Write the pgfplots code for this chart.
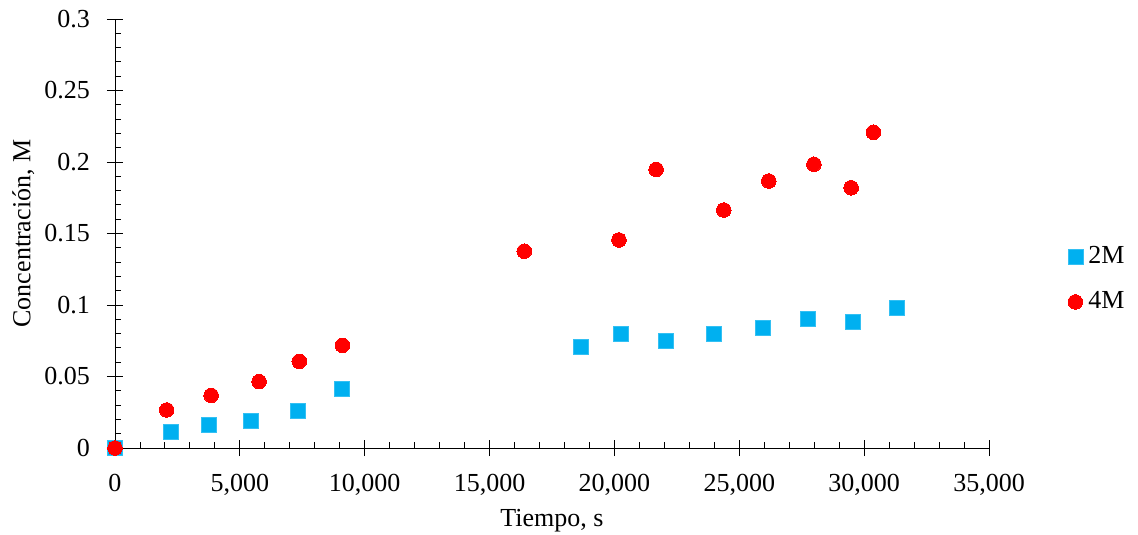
\documentclass[border=0pt]{standalone}
\usepackage{fontspec}
\setmainfont{Liberation Serif}
\usepackage{pgfplots}
\pgfplotsset{compat=1.18}
\definecolor{sqblue}{HTML}{00B0F0}
\definecolor{cired}{HTML}{FF0000}
\begin{document}
\fontsize{26}{30}\selectfont
\begin{tikzpicture}[x=1pt,y=1pt]
\useasboundingbox (-115,-87) rectangle (1023,448);
\begin{axis}[
  at={(0pt,0pt)}, anchor=south west,
  scale only axis, width=874pt, height=429pt,
  xmin=0, xmax=35000, ymin=0, ymax=0.3,
  axis x line*=bottom, axis y line*=left,
  clip=false,
  axis line style={black, line width=0.9pt},
  xtick={0,5000,10000,15000,20000,25000,30000,35000},
  ytick={0,0.05,0.1,0.15,0.2,0.25,0.3},
  minor x tick num=4, minor y tick num=4,
  tick align=inside,
  major tick length=8pt, minor tick length=6pt,
  tick style={black, line width=0.9pt},
  extra x ticks={0,5000,10000,15000,20000,25000,30000,35000},
  extra y ticks={0,0.05,0.1,0.15,0.2,0.25,0.3},
  extra x tick labels={}, extra y tick labels={},
  extra tick style={tick align=outside, major tick length=8pt},
  scaled x ticks=false, scaled y ticks=false,
  /pgf/number format/assume math mode=true,
  xticklabel style={/pgf/number format/.cd, 1000 sep={,}, /tikz/.cd, inner sep=0pt, anchor=north, yshift=-26pt},
  yticklabel style={/pgf/number format/.cd, fixed, precision=2, /tikz/.cd, inner sep=0pt, anchor=east, xshift=-25pt},
  xlabel={Tiempo, s},
  ylabel={Concentración, M},
  xlabel style={at={(axis description cs:0.5,-0.17)}, anchor=center},
  ylabel style={at={(axis description cs:-0.105,0.5)}, anchor=center},
  legend style={draw=none, fill=none, at={(axis description cs:1.09,0.393)}, anchor=west, row sep=19pt, column sep=3pt, inner sep=0pt, nodes={inner sep=2.5pt}},
  legend cell align=left,
  legend image code/.code={\draw[only marks] plot coordinates {(0pt,0pt)};},
]
\addplot[only marks, mark=square*, mark size=7.5pt, mark options={fill=sqblue, draw=sqblue!80!white, line width=0.6pt}] coordinates {
(0,0) (2230,0.0114) (3740,0.0163) (5450,0.0189) (7340,0.0263) (9080,0.0413)
(18660,0.0706) (20250,0.0797) (22040,0.0752) (23960,0.0802) (25930,0.0844)
(27730,0.0905) (29540,0.0884) (31300,0.0982)
};
\addlegendentry{2M}
\addplot[only marks, mark=*, mark size=7.3pt, mark options={fill=cired, draw=cired, line width=0pt}] coordinates {
(0,0) (2070,0.0266) (3850,0.0368) (5770,0.0464) (7380,0.0606) (9110,0.0718)
(16390,0.1376) (20180,0.1455) (21670,0.1948) (24380,0.1664) (26180,0.1867)
(27990,0.1984) (29480,0.1820) (30370,0.2208)
};
\addlegendentry{4M}
\end{axis}
\end{tikzpicture}
\end{document}
